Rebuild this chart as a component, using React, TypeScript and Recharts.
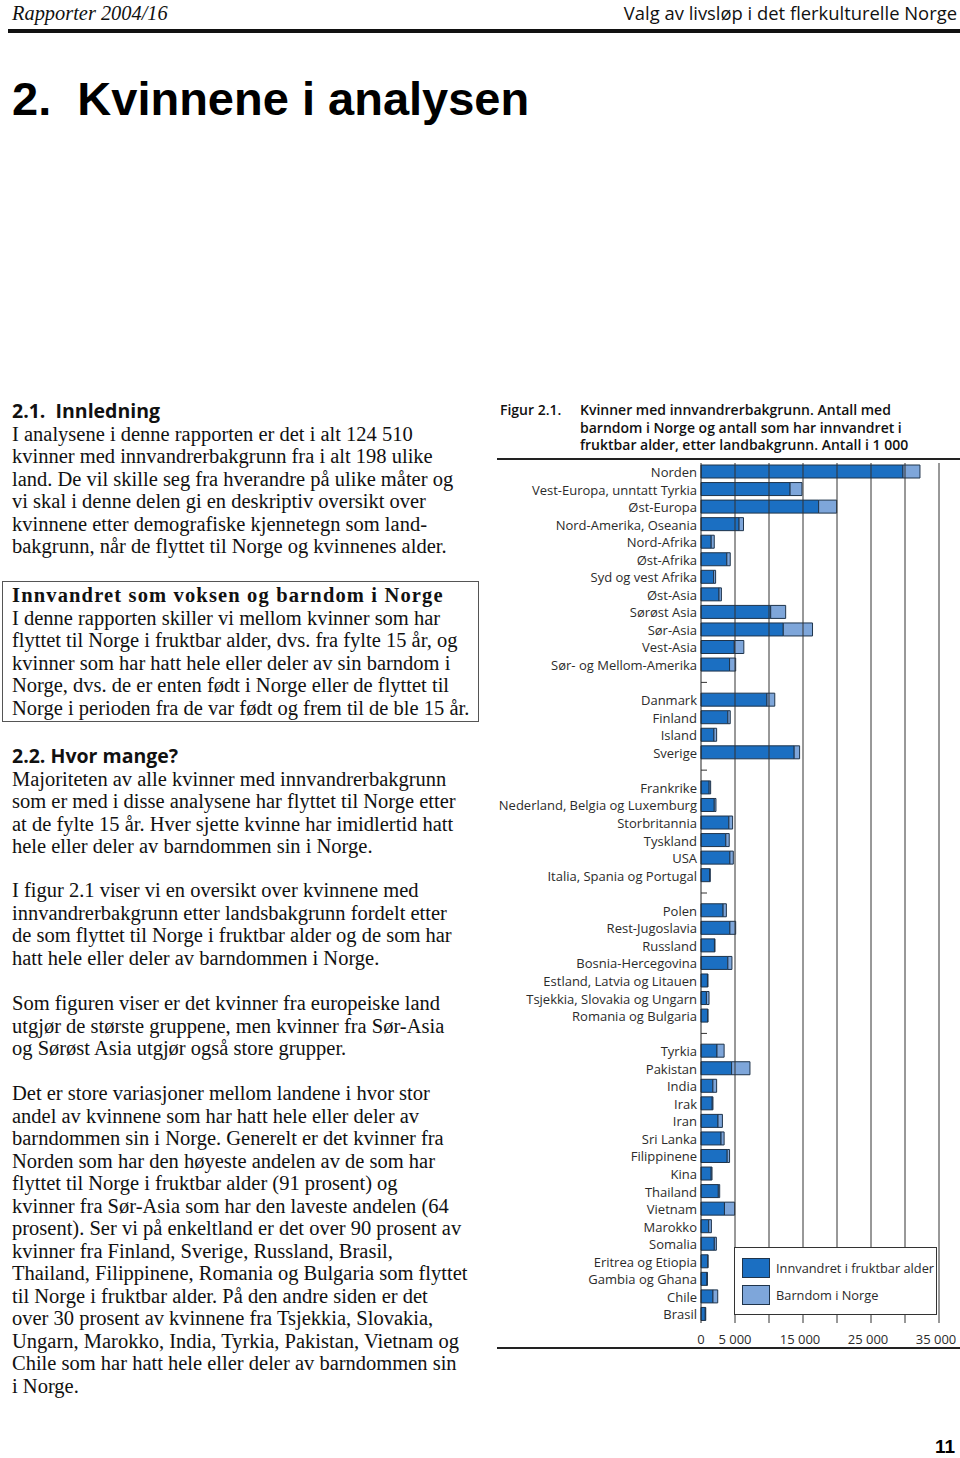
import { Bar, BarChart, Legend, ReferenceLine, XAxis, YAxis } from "recharts";

// landbakgrunn, "" = gruppeskille
const categories = [
  "Norden", "Vest-Europa, unntatt Tyrkia", "Øst-Europa", "Nord-Amerika, Oseania", "Nord-Afrika", "Øst-Afrika",
  "Syd og vest Afrika", "Øst-Asia", "Sørøst Asia", "Sør-Asia", "Vest-Asia", "Sør- og Mellom-Amerika",
  "",
  "Danmark", "Finland", "Island", "Sverige",
  "",
  "Frankrike", "Nederland, Belgia og Luxemburg", "Storbritannia", "Tyskland", "USA", "Italia, Spania og Portugal",
  "",
  "Polen", "Rest-Jugoslavia", "Russland", "Bosnia-Hercegovina", "Estland, Latvia og Litauen",
  "Tsjekkia, Slovakia og Ungarn", "Romania og Bulgaria",
  "",
  "Tyrkia", "Pakistan", "India", "Irak", "Iran", "Sri Lanka", "Filippinene", "Kina", "Thailand", "Vietnam",
  "Marokko", "Somalia", "Eritrea og Etiopia", "Gambia og Ghana", "Chile", "Brasil",
];

// Innvandret i fruktbar alder
const fruktbar = [
  29700, 13100, 17300, 5600, 1500, 3800, 1850, 2650, 10250, 12100, 4900, 4200,
  null,
  9700, 3950, 1900, 13700,
  null,
  1200, 1950, 4100, 3650, 4250, 1250,
  null,
  3250, 4250, 1980, 3950, 950, 800, 970,
  null,
  2350, 4500, 1750, 1650, 2500, 2950, 3850, 1500, 2550, 3450, 1130, 1960, 980, 880, 1760, 630,
];

// Barndom i Norge
const barndom = [
  2500, 1750, 2650, 650, 450, 500, 300, 350, 2200, 4300, 1400, 900,
  null,
  1150, 350, 400, 800,
  null,
  220, 250, 550, 500, 500, 120,
  null,
  480, 850, 80, 600, 80, 380, 60,
  null,
  1050, 2700, 550, 110, 650, 450, 350, 120, 200, 1500, 400, 300, 60, 60, 700, 70,
];

const xTicks = [0, 5000, 10000, 15000, 20000, 25000, 30000, 35000];
const xTickLabels = ["0", "5 000", "", "15 000", "", "25 000", "", "35 000"];

const legendItems = [
  { label: "Innvandret i fruktbar alder", color: "#1b6fc2" },
  { label: "Barndom i Norge", color: "#7ea6da" },
];

const rows = categories.map((name, i) => ({
  id: `r${i}`,
  name,
  fruktbar: fruktbar[i],
  barndom: barndom[i],
}));

const serif = "'Liberation Serif', 'Times New Roman', serif";
const sans = "'Open Sans', 'Noto Sans', sans-serif";
const label = "#2b2b2b";
const edge = "#1f344b";

function CategoryTick(props: any) {
  const { x, y, payload } = props;
  const row = rows.find((r) => r.id === payload.value);
  if (!row || !row.name) {
    return <line x1={x + 4} x2={x + 10} y1={y} y2={y} stroke="#333" strokeWidth={1} />;
  }
  return (
    <text x={x} y={y} dy="0.4em" textAnchor="end" fontFamily={sans} fontSize={13} fill={label}>
      {row.name}
    </text>
  );
}

function ValueTick(props: any) {
  const { x, y, payload } = props;
  const i = xTicks.indexOf(payload.value);
  return (
    <text x={x} y={y} dy="0.71em" dx={i > 2 ? -3 : 0} textAnchor="middle" fontFamily={sans} fontSize={13} fill={label}>
      {xTickLabels[i]}
    </text>
  );
}

function LegendBox() {
  return (
    <div
      style={{
        boxSizing: "border-box",
        width: 203,
        height: 68,
        background: "#fff",
        border: "1.5px solid #333",
        paddingTop: 10,
        paddingLeft: 7,
      }}
    >
      {legendItems.map((it) => (
        <div key={it.label} style={{ display: "flex", alignItems: "center", height: 20, marginBottom: 6.5 }}>
          <div
            style={{
              width: 28,
              height: 20,
              boxSizing: "border-box",
              background: it.color,
              border: `1.5px solid ${edge}`,
            }}
          />
          <span style={{ marginLeft: 6, fontFamily: sans, fontSize: 12.8, color: label, whiteSpace: "nowrap" }}>
            {it.label}
          </span>
        </div>
      ))}
    </div>
  );
}

function Lines({ top, left, lines, first }: { top: number; left: number; lines: string[]; first?: any }) {
  return (
    <div style={{ position: "absolute", top, left, fontFamily: serif, fontSize: 20.5, lineHeight: "22.5px", color: "#111" }}>
      {first}
      {lines.map((l, i) => (
        <div key={i} style={{ whiteSpace: "nowrap", height: 22.5 }}>
          {l}
        </div>
      ))}
    </div>
  );
}

const heading = (text: string) => (
  <div style={{ fontFamily: sans, fontWeight: 700, fontSize: 19.5, height: 22.5, whiteSpace: "nowrap" }}>{text}</div>
);

export default function App() {
  return (
    <div style={{ position: "absolute", left: 0, top: 0, width: 960, height: 1458, background: "#fff", overflow: "hidden" }}>
      {/* topptekst */}
      <div style={{ position: "absolute", left: 12, top: 1, fontFamily: serif, fontStyle: "italic", fontSize: 20.4, lineHeight: "24px", color: "#111" }}>
        Rapporter 2004/16
      </div>
      <div style={{ position: "absolute", right: 3, top: 0, fontFamily: sans, fontSize: 18.4, lineHeight: "26px", color: "#111", whiteSpace: "nowrap" }}>
        Valg av livsløp i det flerkulturelle Norge
      </div>
      <div style={{ position: "absolute", left: 8, top: 29, width: 952, height: 4, background: "#111" }} />

      <div style={{ position: "absolute", left: 12, top: 71, fontFamily: "'Liberation Sans', Arial, sans-serif", fontWeight: 700, fontSize: 47, lineHeight: "56px", color: "#000", whiteSpace: "nowrap" }}>
        2.&nbsp; Kvinnene i analysen
      </div>

      {/* venstre spalte */}
      <Lines
        top={400}
        left={12}
        first={heading("2.1.\u00a0 Innledning")}
        lines={[
          "I analysene i denne rapporten er det i alt 124 510",
          "kvinner med innvandrerbakgrunn fra i alt 198 ulike",
          "land. De vil skille seg fra hverandre på ulike måter og",
          "vi skal i denne delen gi en deskriptiv oversikt over",
          "kvinnene etter demografiske kjennetegn som land-",
          "bakgrunn, når de flyttet til Norge og kvinnenes alder.",
        ]}
      />

      <div style={{ position: "absolute", left: 2, top: 581, width: 477, height: 141, boxSizing: "border-box", border: "1.5px solid #555" }} />
      <Lines
        top={584}
        left={12}
        first={
          <div style={{ fontWeight: 700, letterSpacing: 1.15, whiteSpace: "nowrap", height: 22.5 }}>
            Innvandret som voksen og barndom i Norge
          </div>
        }
        lines={[
          "I denne rapporten skiller vi mellom kvinner som har",
          "flyttet til Norge i fruktbar alder, dvs. fra fylte 15 år, og",
          "kvinner som har hatt hele eller deler av sin barndom i",
          "Norge, dvs. de er enten født i Norge eller de flyttet til",
          "Norge i perioden fra de var født og frem til de ble 15 år.",
        ]}
      />

      <Lines
        top={745}
        left={12}
        first={heading("2.2. Hvor mange?")}
        lines={[
          "Majoriteten av alle kvinner med innvandrerbakgrunn",
          "som er med i disse analysene har flyttet til Norge etter",
          "at de fylte 15 år. Hver sjette kvinne har imidlertid hatt",
          "hele eller deler av barndommen sin i Norge.",
        ]}
      />
      <Lines
        top={879}
        left={12}
        lines={[
          "I figur 2.1 viser vi en oversikt over kvinnene med",
          "innvandrerbakgrunn etter landsbakgrunn fordelt etter",
          "de som flyttet til Norge i fruktbar alder og de som har",
          "hatt hele eller deler av barndommen i Norge.",
        ]}
      />
      <Lines
        top={992}
        left={12}
        lines={[
          "Som figuren viser er det kvinner fra europeiske land",
          "utgjør de største gruppene, men kvinner fra Sør-Asia",
          "og Sørøst Asia utgjør også store grupper.",
        ]}
      />
      <Lines
        top={1082}
        left={12}
        lines={[
          "Det er store variasjoner mellom landene i hvor stor",
          "andel av kvinnene som har hatt hele eller deler av",
          "barndommen sin i Norge. Generelt er det kvinner fra",
          "Norden som har den høyeste andelen av de som har",
          "flyttet til Norge i fruktbar alder (91 prosent) og",
          "kvinner fra Sør-Asia som har den laveste andelen (64",
          "prosent). Ser vi på enkeltland er det over 90 prosent av",
          "kvinner fra Finland, Sverige, Russland, Brasil,",
          "Thailand, Filippinene, Romania og Bulgaria som flyttet",
          "til Norge i fruktbar alder. På den andre siden er det",
          "over 30 prosent av kvinnene fra Tsjekkia, Slovakia,",
          "Ungarn, Marokko, India, Tyrkia, Pakistan, Vietnam og",
          "Chile som har hatt hele eller deler av barndommen sin",
          "i Norge.",
        ]}
      />

      {/* figurtekst */}
      <div style={{ position: "absolute", left: 500, top: 401, fontFamily: sans, fontWeight: 600, fontSize: 14, lineHeight: "17.5px", color: "#111" }}>
        Figur 2.1.
      </div>
      <div style={{ position: "absolute", left: 580, top: 401, fontFamily: sans, fontWeight: 600, fontSize: 14, lineHeight: "17.5px", color: "#111", whiteSpace: "nowrap" }}>
        <div>Kvinner med innvandrerbakgrunn. Antall med</div>
        <div>barndom i Norge og antall som har innvandret i</div>
        <div>fruktbar alder, etter landbakgrunn. Antall i 1 000</div>
      </div>
      <div style={{ position: "absolute", left: 497, top: 458, width: 463, height: 2, background: "#222" }} />

      <div style={{ position: "absolute", left: 497, top: 450 }}>
        <BarChart
          width={463}
          height={910}
          data={rows}
          layout="vertical"
          margin={{ top: 13, right: 21, bottom: 0, left: 0 }}
          barSize={13}
        >
          <XAxis
            type="number"
            domain={[0, 35000]}
            ticks={xTicks}
            interval={0}
            height={37}
            axisLine={false}
            tickLine={false}
            tickSize={0}
            tickMargin={12}
            tick={<ValueTick />}
          />
          <YAxis
            type="category"
            dataKey="id"
            width={204}
            interval={0}
            axisLine={{ stroke: "#222", strokeWidth: 1 }}
            tickLine={false}
            tickSize={0}
            tickMargin={4}
            tick={<CategoryTick />}
          />
          {xTicks.slice(1).map((v) => (
            <ReferenceLine key={v} x={v} stroke="#333" strokeWidth={1} />
          ))}
          <Legend
            layout="vertical"
            align="center"
            verticalAlign="middle"
            content={<LegendBox />}
            wrapperStyle={{ left: 237, top: 797, width: 203, height: 68 }}
          />
          <Bar dataKey="fruktbar" stackId="a" fill={legendItems[0].color} stroke={edge} strokeWidth={1} isAnimationActive={false} />
          <Bar dataKey="barndom" stackId="a" fill={legendItems[1].color} stroke={edge} strokeWidth={1} isAnimationActive={false} />
        </BarChart>
      </div>

      <div style={{ position: "absolute", left: 497, top: 1347, width: 463, height: 2, background: "#222" }} />

      <div style={{ position: "absolute", right: 5, top: 1436, fontFamily: "'Liberation Sans', Arial, sans-serif", fontWeight: 700, fontSize: 19, lineHeight: "22px", color: "#000" }}>
        11
      </div>
    </div>
  );
}
